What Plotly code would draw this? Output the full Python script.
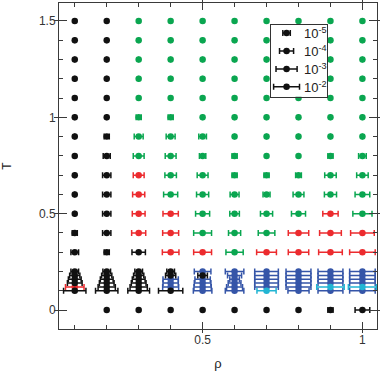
import plotly.graph_objects as go

# ---------------- data ----------------
black_rho = [0.1, 0.2, 0.1, 0.2, 0.1, 0.2, 0.1, 0.2, 0.1, 0.2, 0.1, 0.2,
             0.1, 0.2, 0.1, 0.2, 0.1, 0.2, 0.1, 0.2, 0.1, 0.2, 0.1, 0.2,
             0.1, 0.2, 0.3,
             0.1, 0.1, 0.1, 0.1, 0.1,
             0.2, 0.2, 0.2, 0.2, 0.2, 0.2,
             0.3, 0.3, 0.3, 0.3, 0.3, 0.3,
             0.4, 0.4, 0.4,
             0.5,
             0.2, 0.3, 0.4, 0.5, 0.6, 0.7, 0.8, 0.9, 1.0]
black_T = [1.5, 1.5, 1.4, 1.4, 1.3, 1.3, 1.2, 1.2, 1.1, 1.1, 1.0, 1.0,
           0.9, 0.9, 0.8, 0.8, 0.7, 0.7, 0.6, 0.6, 0.5, 0.5, 0.4, 0.4,
           0.3, 0.3, 0.3,
           0.2, 0.18, 0.16, 0.14, 0.1,
           0.2, 0.18, 0.16, 0.14, 0.12, 0.1,
           0.2, 0.18, 0.16, 0.14, 0.12, 0.1,
           0.2, 0.18, 0.1,
           0.18,
           0, 0, 0, 0, 0, 0, 0, 0, 0]
black_err = [0, 0, 0, 0, 0, 0, 0, 0, 0, 0, 0, 0,
             0, 0.008, 0, 0.011, 0, 0.013, 0, 0.013, 0, 0.013, 0.008, 0.013,
             0.012, 0.008, 0.021,
             0.012, 0.016, 0.020, 0.023, 0.035,
             0.012, 0.016, 0.020, 0.023, 0.027, 0.035,
             0.012, 0.016, 0.020, 0.023, 0.027, 0.034,
             0.012, 0.016, 0.038,
             0.015,
             0, 0, 0, 0, 0, 0, 0, 0.008, 0.023]

green_rho = [0.3, 0.4, 0.5, 0.6, 0.7, 0.8, 0.9, 1.0,
             0.3, 0.4, 0.5, 0.6, 0.7, 0.8, 0.9, 1.0,
             0.3, 0.4, 0.5, 0.6, 0.7, 0.8, 0.9, 1.0,
             0.3, 0.4, 0.5, 0.6, 0.7, 0.8, 0.9, 1.0,
             0.3, 0.4, 0.5, 0.6, 0.7, 0.8, 0.9, 1.0,
             0.3, 0.4, 0.5, 0.6, 0.7, 0.8, 0.9, 1.0,
             0.3, 0.4, 0.5, 0.6, 0.7, 0.8, 0.9, 1.0,
             0.3, 0.4, 0.5, 0.6, 0.7, 0.8, 0.9, 1.0,
             0.4, 0.5, 0.6, 0.7, 0.8, 0.9, 1.0,
             0.4, 0.5, 0.6, 0.7, 0.8, 0.9, 1.0,
             0.5, 0.6, 0.7, 0.8, 1.0,
             0.5, 0.6, 0.7,
             0.6]
green_T = [1.5, 1.5, 1.5, 1.5, 1.5, 1.5, 1.5, 1.5,
           1.4, 1.4, 1.4, 1.4, 1.4, 1.4, 1.4, 1.4,
           1.3, 1.3, 1.3, 1.3, 1.3, 1.3, 1.3, 1.3,
           1.2, 1.2, 1.2, 1.2, 1.2, 1.2, 1.2, 1.2,
           1.1, 1.1, 1.1, 1.1, 1.1, 1.1, 1.1, 1.1,
           1.0, 1.0, 1.0, 1.0, 1.0, 1.0, 1.0, 1.0,
           0.9, 0.9, 0.9, 0.9, 0.9, 0.9, 0.9, 0.9,
           0.8, 0.8, 0.8, 0.8, 0.8, 0.8, 0.8, 0.8,
           0.7, 0.7, 0.7, 0.7, 0.7, 0.7, 0.7,
           0.6, 0.6, 0.6, 0.6, 0.6, 0.6, 0.6,
           0.5, 0.5, 0.5, 0.5, 0.5,
           0.4, 0.4, 0.4,
           0.3]
green_err = [0, 0, 0, 0, 0, 0, 0, 0,
             0, 0, 0, 0, 0, 0, 0, 0,
             0, 0, 0, 0, 0, 0, 0, 0,
             0, 0, 0, 0, 0, 0, 0, 0,
             0, 0, 0, 0, 0, 0, 0, 0,
             0.008, 0.008, 0, 0, 0, 0, 0, 0,
             0.014, 0.014, 0.012, 0, 0, 0, 0, 0,
             0.017, 0.017, 0.010, 0.008, 0, 0, 0.008, 0.012,
             0.018, 0.017, 0.008, 0.008, 0.009, 0.018, 0.018,
             0.022, 0.019, 0.014, 0.011, 0.017, 0.019, 0.023,
             0.022, 0.015, 0.019, 0.022, 0.030,
             0.028, 0.019, 0.026,
             0.027]

red_rho = [0.3, 0.3, 0.3, 0.4, 0.9, 0.3, 0.4, 0.8, 0.9, 1.0,
           0.4, 0.5, 0.7, 0.8, 0.9, 1.0, 0.1]
red_T = [0.7, 0.6, 0.5, 0.5, 0.5, 0.4, 0.4, 0.4, 0.4, 0.4,
         0.3, 0.3, 0.3, 0.3, 0.3, 0.3, 0.12]
red_err = [0.017, 0.019, 0.020, 0.024, 0.024, 0.022, 0.025, 0.032, 0.034, 0.037,
           0.026, 0.028, 0.031, 0.032, 0.037, 0.040, 0.029]

blue_rho = [0.4, 0.4, 0.4,
            0.5, 0.5, 0.5, 0.5, 0.5,
            0.6, 0.6, 0.6, 0.6, 0.6, 0.6,
            0.7, 0.7, 0.7, 0.7, 0.7,
            0.8, 0.8, 0.8, 0.8, 0.8, 0.8,
            0.9, 0.9, 0.9, 0.9, 0.9,
            1.0, 1.0, 1.0, 1.0, 1.0]
blue_T = [0.16, 0.14, 0.12,
          0.2, 0.16, 0.14, 0.12, 0.1,
          0.2, 0.18, 0.16, 0.14, 0.12, 0.1,
          0.2, 0.18, 0.16, 0.14, 0.12,
          0.2, 0.18, 0.16, 0.14, 0.12, 0.1,
          0.2, 0.18, 0.16, 0.14, 0.1,
          0.2, 0.18, 0.16, 0.14, 0.1]
blue_err = [0.024, 0.024, 0.025,
            0.026, 0.024, 0.026, 0.027, 0.029,
            0.029, 0.022, 0.015, 0.020, 0.025, 0.029,
            0.037, 0.037, 0.037, 0.037, 0.037,
            0.039, 0.039, 0.039, 0.039, 0.039, 0.033,
            0.039, 0.039, 0.039, 0.039, 0.039,
            0.040, 0.040, 0.040, 0.040, 0.040]

cyan_rho = [0.7, 0.9, 1.0]
cyan_T = [0.1, 0.12, 0.12]
cyan_err = [0.030, 0.043, 0.044]

legend_err = [0.0117, 0.022, 0.033, 0.0405]
legend_labels = ["10<sup>-5</sup>", "10<sup>-4</sup>", "10<sup>-3</sup>", "10<sup>-2</sup>"]

x_ticks = [0.5, 1]
y_ticks = [0, 0.5, 1, 1.5]

# ---------------- styling / layout ----------------
W, H = 380, 372
ML, MR, MT, MB = 50, 3, 2, 43
XR = [0.0507, 1.0456]
YR = [-0.098, 1.593]
pw = W - ML - MR
ph = H - MT - MB
px_per_x = pw / (XR[1] - XR[0])

FONT = "Liberation Sans, Arial, sans-serif"
AXC = "#3a3a3a"

colors = {
    "blue": "#3555a8",
    "cyan": "#22b5d3",
    "green": "#0aa650",
    "red": "#ec2b2e",
    "black": "#111111",
}

fig = go.Figure()


def add_series(xs, ys, es, color, xa="x", ya="y"):
    fig.add_trace(go.Scatter(
        x=xs, y=ys, mode="markers", xaxis=xa, yaxis=ya,
        marker=dict(size=6.5, color=color, line=dict(width=0)),
        error_x=dict(type="data", array=es, visible=True, color=color,
                     thickness=1.5, width=3),
        showlegend=False, hoverinfo="skip"))


add_series(blue_rho, blue_T, blue_err, colors["blue"])
add_series(cyan_rho, cyan_T, cyan_err, colors["cyan"])
add_series(green_rho, green_T, green_err, colors["green"])
add_series(red_rho, red_T, red_err, colors["red"])
add_series(black_rho, black_T, black_err, colors["black"])

# ---- key box (own subplot, same x scale as the main plot) ----
box_l, box_r, box_t, box_b = 268, 326, 24, 96     # pixel frame of the key
dx0 = (box_l - ML) / pw
dx1 = (box_r - ML) / pw
dy1 = (H - MB - box_t) / ph
dy0 = (H - MB - box_b) / ph
key_w = (box_r - box_l) / px_per_x
key_pos = [0, 1, 2, 3]
key_x = 16 / px_per_x
add_series([key_x] * 4, key_pos, legend_err, colors["black"], "x2", "y2")
for lab, p in zip(legend_labels, key_pos):
    fig.add_annotation(x=32 / px_per_x, y=p, xref="x2", yref="y2", text=lab,
                       showarrow=False, xanchor="left", yanchor="middle",
                       font=dict(family=FONT, size=13, color="#222"))

# empty trace to activate overlay axes for outward tick stubs
fig.add_trace(go.Scatter(x=[], y=[], xaxis="x3", yaxis="y3", showlegend=False))

fig.update_layout(
    width=W, height=H,
    margin=dict(l=ML, r=MR, t=MT, b=MB),
    paper_bgcolor="white", plot_bgcolor="white",
    font=dict(family=FONT, size=12, color="#222"),
    xaxis=dict(range=XR, tickvals=x_ticks, ticktext=["0.5", "1"],
               ticks="inside", ticklen=7, tickwidth=1, tickcolor=AXC,
               minor=dict(dtick=0.1, tick0=0, ticks="inside", ticklen=4,
                          tickwidth=1, tickcolor=AXC, showgrid=False),
               showline=True, linecolor=AXC, linewidth=1, mirror="allticks",
               showgrid=False, zeroline=False,
               title=dict(text="ρ", standoff=12, font=dict(size=13)),
               tickfont=dict(size=12, color="#333")),
    yaxis=dict(range=YR, tickvals=y_ticks, ticktext=["0", "0.5", "1", "1.5"],
               ticks="inside", ticklen=8, tickwidth=1, tickcolor=AXC,
               minor=dict(dtick=0.1, tick0=0, ticks="inside", ticklen=4,
                          tickwidth=1, tickcolor=AXC, showgrid=False),
               showline=True, linecolor=AXC, linewidth=1, mirror="allticks",
               showgrid=False, zeroline=False,
               title=dict(text="T", standoff=29, font=dict(size=12)),
               tickfont=dict(size=12, color="#333")),
    xaxis3=dict(range=XR, overlaying="x", anchor="y3", tickvals=x_ticks,
                ticks="outside", ticklen=3, tickcolor=AXC, showticklabels=False,
                showline=False, showgrid=False, zeroline=False, mirror="ticks"),
    yaxis3=dict(range=YR, overlaying="y", anchor="x3", tickvals=y_ticks,
                ticks="outside", ticklen=4, tickcolor=AXC, showticklabels=False,
                showline=False, showgrid=False, zeroline=False, mirror="ticks"),
    xaxis2=dict(domain=[dx0, dx1], anchor="y2", range=[0, key_w],
                showline=True, linecolor="#333", linewidth=1.2, mirror=True,
                showticklabels=False, ticks="", showgrid=False, zeroline=False),
    yaxis2=dict(domain=[dy0, dy1], anchor="x2", range=[3.55, -0.45],
                showline=True, linecolor="#333", linewidth=1.2, mirror=True,
                showticklabels=False, ticks="", showgrid=False, zeroline=False),
)

fig.write_html("out.html",
               config={"displayModeBar": False},
               post_script="document.body.style.margin='0';"
                           "document.body.style.overflow='hidden';")
